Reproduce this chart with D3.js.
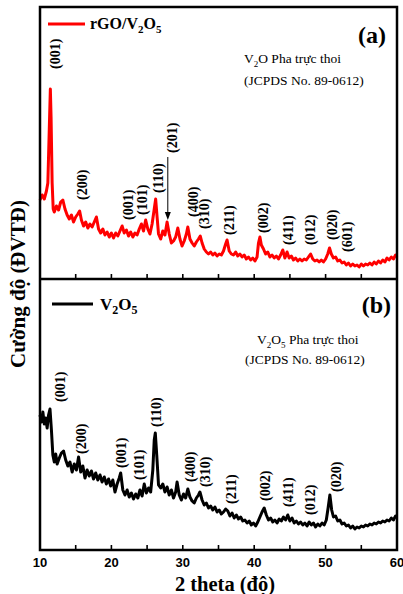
<!DOCTYPE html>
<html>
<head>
<meta charset="utf-8">
<script src="https://cdn.jsdelivr.net/npm/d3@7"></script>
<style>
  body { margin: 0; background: #fff; }
  svg { display: block; }
</style>
</head>
<body>
<svg id="chart" width="403" height="594"></svg>
<script>
'use strict';

// XRD patterns, [2 theta (deg), intensity (a.u.)]
var rgoV2O5 = [
  [10.0,79],[10.3,84],[10.6,80],[10.9,88],[11.1,96],[11.3,150],[11.45,190],[11.55,162],[11.7,96],[11.85,70],
  [12.0,67],[12.3,73],[12.6,69],[12.9,77],[13.2,79],[13.5,70],[13.8,64],[14.1,60],[14.4,64],[14.7,57],
  [15.0,62],[15.3,65],[15.55,68],[15.8,59],[16.1,53],[16.4,57],[16.7,51],[17.0,55],[17.3,52],[17.6,57],
  [17.9,62],[18.2,50],[18.5,46],[18.8,50],[19.1,44],[19.4,47],[19.7,42],[20.0,46],[20.3,41],[20.6,46],
  [20.9,43],[21.2,48],[21.5,53],[21.8,46],[22.1,49],[22.4,43],[22.7,47],[23.0,42],[23.3,46],[23.6,44],
  [23.9,50],[24.2,55],[24.5,48],[24.8,59],[25.1,50],[25.4,45],[25.7,55],[26.0,70],[26.2,80],[26.4,62],
  [26.6,45],[26.9,40],[27.2,48],[27.5,44],[27.8,57],[28.1,45],[28.4,36],[28.7,38],[29.0,42],[29.3,51],
  [29.6,40],[29.9,33],[30.2,38],[30.5,45],[30.7,52],[31.0,40],[31.3,36],[31.6,33],[31.9,37],[32.2,40],
  [32.45,43],[32.7,36],[33.0,30],[33.3,27],[33.6,25],[33.9,27],[34.2,24],[34.5,26],[34.8,23],[35.1,25],
  [35.4,24],[35.7,28],[36.0,35],[36.2,39],[36.5,28],[36.8,25],[37.1,24],[37.4,27],[37.7,23],[38.0,25],
  [38.3,22],[38.6,24],[38.9,20],[39.2,22],[39.5,19],[39.8,21],[40.1,18],[40.4,22],[40.6,36],[40.8,42],
  [41.0,34],[41.3,30],[41.6,25],[41.9,27],[42.2,22],[42.5,24],[42.8,21],[43.1,23],[43.4,20],[43.7,24],
  [44.0,29],[44.3,21],[44.6,27],[44.9,21],[45.2,23],[45.5,19],[45.8,21],[46.1,18],[46.4,20],[46.7,18],
  [47.0,20],[47.3,19],[47.6,22],[47.9,25],[48.2,20],[48.5,18],[48.8,19],[49.1,17],[49.4,19],[49.7,17],
  [50.0,20],[50.3,25],[50.55,31],[50.8,25],[51.1,21],[51.4,22],[51.7,18],[52.0,19],[52.3,16],[52.6,17],
  [52.9,14],[53.2,16],[53.5,13],[53.8,15],[54.1,13],[54.4,14],[54.7,12],[55.0,15],[55.3,13],[55.6,15],
  [55.9,14],[56.2,16],[56.5,14],[56.8,17],[57.1,15],[57.4,18],[57.7,16],[58.0,19],[58.3,17],[58.6,21],
  [58.9,19],[59.2,22],[59.5,20],[59.8,24],[60.0,22]
];

var pureV2O5 = [
  [10.0,135],[10.2,128],[10.4,138],[10.6,126],[10.8,132],[11.0,122],[11.2,135],[11.4,141],[11.6,120],[11.8,95],
  [12.0,88],[12.2,96],[12.4,86],[12.7,92],[13.0,97],[13.3,99],[13.6,90],[13.9,84],[14.2,88],[14.5,78],
  [14.8,86],[15.1,80],[15.4,93],[15.7,78],[16.0,84],[16.3,72],[16.6,80],[16.9,74],[17.2,79],[17.5,71],
  [17.8,77],[18.1,70],[18.4,75],[18.7,68],[19.0,73],[19.3,66],[19.6,71],[19.9,64],[20.2,70],[20.5,58],
  [20.8,66],[21.1,72],[21.3,77],[21.6,60],[21.9,55],[22.2,60],[22.5,53],[22.8,57],[23.1,51],[23.4,56],
  [23.7,52],[24.0,60],[24.3,54],[24.6,66],[24.9,57],[25.2,62],[25.5,58],[25.8,80],[26.0,110],[26.15,117],
  [26.35,95],[26.6,65],[26.9,62],[27.2,66],[27.5,58],[27.8,63],[28.1,55],[28.4,60],[28.7,52],[29.0,58],
  [29.2,68],[29.5,55],[29.8,50],[30.1,56],[30.4,52],[30.7,61],[31.0,53],[31.3,49],[31.6,47],[31.9,52],
  [32.2,55],[32.4,58],[32.7,50],[33.0,45],[33.3,47],[33.6,42],[33.9,44],[34.2,40],[34.5,43],[34.8,38],
  [35.1,40],[35.4,36],[35.7,38],[36.0,41],[36.3,39],[36.6,34],[36.9,37],[37.2,32],[37.5,35],[37.8,31],
  [38.1,33],[38.4,29],[38.7,30],[39.0,27],[39.3,29],[39.6,25],[39.9,27],[40.2,24],[40.5,28],[40.8,33],
  [41.1,38],[41.4,42],[41.7,35],[42.0,30],[42.3,32],[42.6,28],[42.9,30],[43.2,27],[43.5,31],[43.8,29],
  [44.1,33],[44.4,30],[44.7,35],[45.0,29],[45.3,32],[45.6,27],[45.9,29],[46.2,26],[46.5,28],[46.8,25],
  [47.1,27],[47.4,24],[47.7,28],[48.0,25],[48.3,27],[48.6,23],[48.9,26],[49.2,24],[49.5,27],[49.8,25],
  [50.1,30],[50.35,42],[50.6,55],[50.85,40],[51.1,33],[51.4,34],[51.7,29],[52.0,30],[52.3,26],[52.6,27],
  [52.9,24],[53.2,25],[53.5,22],[53.8,24],[54.1,21],[54.4,23],[54.7,22],[55.0,24],[55.3,23],[55.6,25],
  [55.9,24],[56.2,26],[56.5,25],[56.8,27],[57.1,26],[57.4,28],[57.7,27],[58.0,29],[58.3,28],[58.6,30],
  [58.9,29],[59.2,32],[59.5,30],[59.8,34],[60.0,33]
];

// peak labels: hkl, 2 theta, intensity where the label starts
var peaksA = [
  {hkl:'(001)', theta:12.1, level:210}, {hkl:'(200)', theta:15.9, level:79},
  {hkl:'(001)', theta:22.3, level:59},  {hkl:'(101)', theta:24.3, level:64},
  {hkl:'(110)', theta:26.5, level:86},  {hkl:'(201)', theta:28.5, level:126},
  {hkl:'(400)', theta:31.4, level:62},  {hkl:'(310)', theta:33.0, level:50},
  {hkl:'(211)', theta:36.5, level:44},  {hkl:'(002)', theta:41.2, level:46},
  {hkl:'(411)', theta:44.7, level:34},  {hkl:'(012)', theta:47.8, level:34},
  {hkl:'(020)', theta:50.9, level:39},  {hkl:'(601)', theta:53.0, level:27}
];
var peaksB = [
  {hkl:'(001)', theta:12.8, level:148}, {hkl:'(200)', theta:15.7, level:96},
  {hkl:'(001)', theta:21.3, level:82},  {hkl:'(101)', theta:23.9, level:70},
  {hkl:'(110)', theta:26.2, level:123}, {hkl:'(400)', theta:31.0, level:68},
  {hkl:'(310)', theta:33.1, level:63},  {hkl:'(211)', theta:36.8, level:46},
  {hkl:'(002)', theta:41.5, level:49},  {hkl:'(411)', theta:44.7, level:43},
  {hkl:'(012)', theta:47.8, level:35},  {hkl:'(020)', theta:51.4, level:58}
];
// arrow for (201) in panel a: [2 theta, from level, to level]
var arrow201 = [27.9, 122, 59];

var xTicks = [10, 20, 30, 40, 50, 60];
var xMinorTicks = [15, 20, 25, 30, 35, 40, 45, 50, 55];

var svg = d3.select('#chart');
var plotLeft = 40, plotRight = 397, plotTop = 7, plotMid = 279, plotBottom = 550;
var serif = '"Liberation Serif", "Times New Roman", serif';
var sans = '"Liberation Sans", Arial, sans-serif';

var x = d3.scaleLinear().domain([10, 60]).range([plotLeft, plotRight]);
var yA = d3.scaleLinear().domain([0, 272]).range([plotMid, plotTop]);
var yB = d3.scaleLinear().domain([0, 271]).range([plotBottom, plotMid]);

// writes text with subscript parts, parts = [[text, isSub], ...]
function richText(sel, parts, subSize){
  parts.forEach(function(p, i){
    var t = sel.append('tspan').text(p[0]);
    if(p[1]){
      t.attr('dy', 4).attr('font-size', subSize);
    } else if(i > 0 && parts[i-1][1]){
      t.attr('dy', -4);
    }
  });
}

function drawPanel(data, y, color, peaks, y1){
  var line = d3.line()
    .x(function(d){ return x(d[0]); })
    .y(function(d){ return y(d[1]); });

  svg.append('path')
    .datum(data)
    .attr('fill', 'none')
    .attr('stroke', color)
    .attr('stroke-width', 3)
    .attr('stroke-linejoin', 'round')
    .attr('d', line);

  // inner ticks along the bottom of the panel
  svg.append('g').selectAll('line')
    .data(xMinorTicks)
    .enter().append('line')
    .attr('x1', function(d){ return x(d); })
    .attr('x2', function(d){ return x(d); })
    .attr('y1', y1)
    .attr('y2', y1 - 5)
    .attr('stroke', '#000')
    .attr('stroke-width', 1.6);

  svg.append('g').selectAll('text')
    .data(peaks)
    .enter().append('text')
    .attr('transform', function(d){ return 'translate(' + x(d.theta) + ',' + y(d.level) + ') rotate(-90)'; })
    .attr('dy', '0.35em')
    .attr('font-family', serif)
    .attr('font-weight', 'bold')
    .attr('font-size', 14)
    .text(function(d){ return d.hkl; });
}

drawPanel(rgoV2O5, yA, '#ff0000', peaksA, plotMid);
drawPanel(pureV2O5, yB, '#000000', peaksB, plotBottom);

// arrow for (201)
svg.append('line')
  .attr('x1', x(arrow201[0])).attr('x2', x(arrow201[0]))
  .attr('y1', yA(arrow201[1])).attr('y2', yA(arrow201[2]) - 6)
  .attr('stroke', '#000').attr('stroke-width', 1);
svg.append('path')
  .attr('d', 'M' + (x(arrow201[0]) - 3) + ',' + (yA(arrow201[2]) - 8) +
             'L' + (x(arrow201[0]) + 3) + ',' + (yA(arrow201[2]) - 8) +
             'L' + x(arrow201[0]) + ',' + yA(arrow201[2]) + 'Z')
  .attr('fill', '#000');

// frames
svg.append('rect')
  .attr('x', plotLeft).attr('y', plotTop)
  .attr('width', plotRight - plotLeft).attr('height', plotBottom - plotTop)
  .attr('fill', 'none').attr('stroke', '#000').attr('stroke-width', 2.5);
svg.append('line')
  .attr('x1', plotLeft).attr('x2', plotRight).attr('y1', plotMid).attr('y2', plotMid)
  .attr('stroke', '#000').attr('stroke-width', 2.5);

// x tick labels
svg.append('g').selectAll('text')
  .data(xTicks)
  .enter().append('text')
  .attr('x', function(d){ return x(d); })
  .attr('y', 567)
  .attr('text-anchor', 'middle')
  .attr('font-family', sans)
  .attr('font-weight', 'bold')
  .attr('font-size', 13)
  .text(function(d){ return d; });

// axis titles
svg.append('text')
  .attr('x', 225).attr('y', 591)
  .attr('text-anchor', 'middle')
  .attr('font-family', serif).attr('font-weight', 'bold').attr('font-size', 20.5)
  .text('2 theta (độ)');
svg.append('text')
  .attr('transform', 'translate(18,284) rotate(-90)')
  .attr('dy', '0.35em')
  .attr('text-anchor', 'middle')
  .attr('font-family', serif).attr('font-weight', 'bold').attr('font-size', 21)
  .text('Cường độ (ĐVTĐ)');

// legends
svg.append('line').attr('x1', 48).attr('x2', 85).attr('y1', 24).attr('y2', 24)
  .attr('stroke', '#ff0000').attr('stroke-width', 3);
richText(svg.append('text').attr('x', 90).attr('y', 29)
  .attr('font-family', serif).attr('font-weight', 'bold').attr('font-size', 16),
  [['rGO/V', 0], ['2', 1], ['O', 0], ['5', 1]], 11);

svg.append('line').attr('x1', 52).attr('x2', 93).attr('y1', 304).attr('y2', 304)
  .attr('stroke', '#000').attr('stroke-width', 3);
richText(svg.append('text').attr('x', 100).attr('y', 310)
  .attr('font-family', serif).attr('font-weight', 'bold').attr('font-size', 17),
  [['V', 0], ['2', 1], ['O', 0], ['5', 1]], 12);

// panel letters
svg.append('text').attr('x', 386).attr('y', 43).attr('text-anchor', 'end')
  .attr('font-family', serif).attr('font-weight', 'bold').attr('font-size', 24)
  .text('(a)');
svg.append('text').attr('x', 391).attr('y', 313).attr('text-anchor', 'end')
  .attr('font-family', serif).attr('font-weight', 'bold').attr('font-size', 24)
  .text('(b)');

// phase notes
richText(svg.append('text').attr('x', 244).attr('y', 63)
  .attr('font-family', serif).attr('font-size', 13.5),
  [['V', 0], ['2', 1], ['O Pha trực thoi', 0]], 9);
svg.append('text').attr('x', 244).attr('y', 85)
  .attr('font-family', serif).attr('font-size', 13.5)
  .text('(JCPDS No. 89-0612)');

richText(svg.append('text').attr('x', 257).attr('y', 344)
  .attr('font-family', serif).attr('font-size', 13.5),
  [['V', 0], ['2', 1], ['O', 0], ['5', 1], [' Pha trực thoi', 0]], 9);
svg.append('text').attr('x', 245).attr('y', 364)
  .attr('font-family', serif).attr('font-size', 13.5)
  .text('(JCPDS No. 89-0612)');
</script>
</body>
</html>
